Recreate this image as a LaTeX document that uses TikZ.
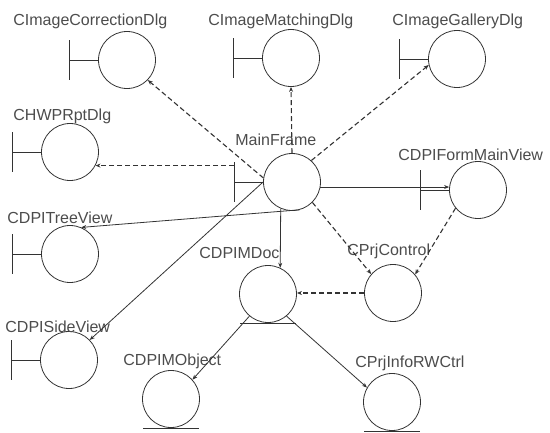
\documentclass[tikz,border=0pt]{standalone}
\usepackage{fontspec}
\setmainfont{Liberation Sans}
\usetikzlibrary{arrows.meta}

\begin{document}
\begin{tikzpicture}[x=1pt, y=-1pt, line width=0.8pt, color=black!80,
    every node/.style={font=\fontsize{16}{18}\selectfont, text=black!70},
    icon/.style={circle, draw=black!80, minimum size=57pt, inner sep=0pt},
    lbl/.style={anchor=base west, inner sep=0pt},
    dep/.style={-{Stealth[length=5pt,width=4pt]}, line width=1.1pt, dash pattern=on 5pt off 3pt},
    assoc/.style={-{Stealth[length=5pt,width=4pt]}}]
    \useasboundingbox (0,0) rectangle (550,432);
    % objects
    \node[icon] (corr)  at (127,60)  {};
    \node[icon] (match) at (291,58)  {};
    \node[icon] (gal)   at (457,59)  {};
    \node[icon] (hwp)   at (70,152)  {};
    \node[icon] (tree)  at (70,254)  {};
    \node[icon] (side)  at (69,360)  {};
    \node[icon] (main)  at (292,182) {};
    \node[icon] (form)  at (478,190) {};
    \node[icon] (doc)   at (268,294) {};
    \node[icon] (ctrl)  at (393,293) {};
    \node[icon] (mobj)  at (171,399) {};
    \node[icon] (info)  at (392,402) {};
    % names
    \node[lbl] (corrL)  at (13,25)   {CImageCorrectionDlg};
    \node[lbl] (matchL) at (208,25)  {CImageMatchingDlg};
    \node[lbl] (galL)   at (392,25)  {CImageGalleryDlg};
    \node[lbl] (hwpL)   at (13,120)  {CHWPRptDlg};
    \node[lbl] (treeL)  at (7,223)   {CDPITreeView};
    \node[lbl] (sideL)  at (5,332)   {CDPISideView};
    \node[lbl] (mainL)  at (235,145) {MainFrame};
    \node[lbl] (formL)  at (398,160) {CDPIFormMainView};
    \node[lbl] (docL)   at (199,258) {CDPIMDoc};
    \node[lbl] (ctrlL)  at (347,255) {CPrjControl};
    \node[lbl] (mobjL)  at (123,365) {CDPIMObject};
    \node[lbl] (infoL)  at (355,367) {CPrjInfoRWCtrl};
    % boundary and entity marks
    \foreach \n in {corr,match,gal,hwp,tree,side,main,form}{
        \draw (\n.west) -- ++(-29,0) coordinate (T\n) ++(0,-20) -- ++(0,40);
    }
    \foreach \n in {doc,mobj,info}{
        \draw (\n.south) ++(-28,0) -- ++(56,0);
    }
    % links
    \draw[dep] (main.172) -- (corr.-44);
    \draw[dep] (main.north) -- (match.south);
    \draw[dep] (main.48) -- (gal.192);
    \draw[dep] (Tmain |- hwp.-28) -- (hwp.-28);
    \draw[assoc] (main.-10) -- (main.-10 -| form.west);
    \draw[assoc] (main.-74) -- (tree.67);
    \draw[assoc] (main.180) -- (side.44);
    \draw[assoc] (main.-113) -- (doc.65);
    \draw[dep] (main.-45) -- (ctrl.139);
    \draw[dep] (form.-141) -- (ctrl.40);
    \draw[dep] (ctrl.west) -- (ctrl.west -| doc.east);
    \draw[assoc] (doc.-130) -- (mobj.42);
    \draw[assoc] (doc.-50) -- (info.150);
\end{tikzpicture}
\end{document}
